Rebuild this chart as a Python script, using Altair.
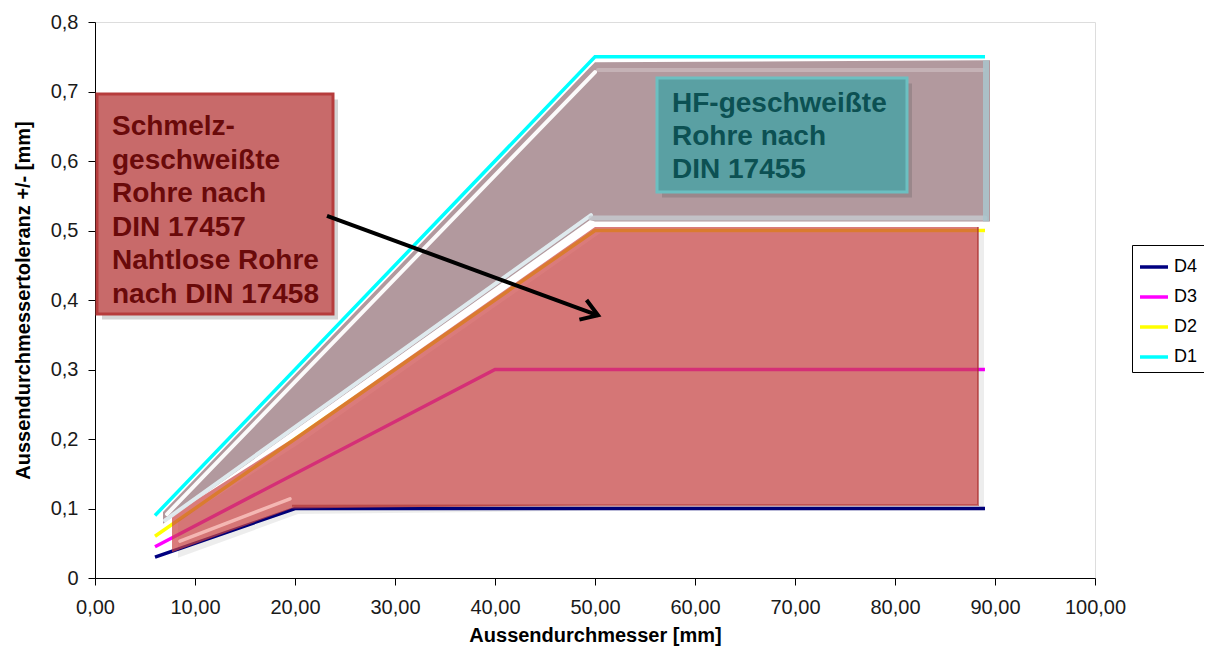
import altair as alt
import pandas as pd

FONT = "Liberation Sans"

# ---------------- data series ----------------
series_names = ["D4", "D3", "D2", "D1"]
series_colors = ["#000080", "#ff00ff", "#ffff00", "#00ffff"]

x_d1 = [6, 50, 89]
y_d1 = [0.09, 0.75, 0.75]
x_d2 = [6, 50, 89]
y_d2 = [0.06, 0.5, 0.5]
x_d3 = [6, 40, 89]
y_d3 = [0.045, 0.3, 0.3]
x_d4 = [6, 20, 89]
y_d4 = [0.03, 0.1, 0.1]

x_ticks = [0, 10, 20, 30, 40, 50, 60, 70, 80, 90, 100]
y_ticks = [0, 0.1, 0.2, 0.3, 0.4, 0.5, 0.6, 0.7, 0.8]

# ---------------- annotation shapes (data coordinates) ----------------
# red region (Schmelzgeschweisste / nahtlose Rohre)
red_x = [7.7, 19.7, 50, 88.3]
red_top = [0.09, 0.2, 0.505, 0.505]
red_bottom = [0.037, 0.1, 0.105, 0.105]

# HF region
hf_x = [6.8, 49.5, 50, 89.5]
hf_top = [0.095, 0.735, 0.742, 0.745]
hf_bottom = [0.078, 0.515, 0.513, 0.513]

# bevel highlight lines
white_x = [7.2, 50.0]
white_y = [0.092, 0.728]
pale_x = [7.0, 49.6]
pale_y = [0.083, 0.522]
band_x = [49.6, 89.0]
band_y = [0.518, 0.518]
topband_x = [50.3, 88.8]
topband_y = [0.731, 0.731]
strip_x = [89.1]
strip_y = [0.513]
strip_y2 = [0.745]
pink_x = [8.5, 19.5]
pink_y = [0.053, 0.114]
red_edge_x = [19.7, 88.3, 88.3]
red_edge_y = [0.104, 0.105, 0.505]

# text boxes
red_box = dict(x=0.2, x2=23.8, y=0.3799, y2=0.6964)
hf_box = dict(x=56.2, x2=81.2, y=0.5554, y2=0.7194)
red_lines = ["Schmelz-", "geschweißte", "Rohre nach", "DIN 17457", "Nahtlose Rohre", "nach DIN 17458"]
red_line_y = [0.6374, 0.5891, 0.5407, 0.4924, 0.4440, 0.3957]
red_text_x = 1.7
hf_lines = ["HF-geschweißte", "Rohre nach", "DIN 17455"]
hf_line_y = [0.6705, 0.623, 0.5755]
hf_text_x = 57.7

# arrow
arrow_x = [23.2]
arrow_y = [0.521]
arrow_x2 = [50.3]
arrow_y2 = [0.378]

# ---------------- tables ----------------
rows = []
for name, xs, ys in [("D1", x_d1, y_d1), ("D2", x_d2, y_d2), ("D3", x_d3, y_d3), ("D4", x_d4, y_d4)]:
    for i, (a, b) in enumerate(zip(xs, ys)):
        rows.append({"series": name, "x": a, "y": b, "i": i})
lines_df = pd.DataFrame(rows)

xscale = alt.Scale(domain=[0, 100], nice=False, zero=False)
yscale = alt.Scale(domain=[0, 0.8], nice=False, zero=False)

xaxis = alt.Axis(
    values=x_ticks, grid=False, domainColor="black", tickColor="black", tickSize=7,
    labelExpr="replace(format(datum.value, '.2f'), '.', ',')",
    labelFont=FONT, labelFontSize=20, labelColor="#1a1a1a", labelPadding=12,
    titleFont=FONT, titleFontSize=20, titleFontWeight="bold", titleColor="black",
    titlePadding=8, labelFlush=False, labelOverlap=False,
)
yaxis = alt.Axis(
    values=y_ticks, grid=False, domainColor="black", tickColor="black", tickSize=7,
    labelExpr="datum.value == 0 ? '0' : replace(format(datum.value, '.1f'), '.', ',')",
    labelFont=FONT, labelFontSize=20, labelColor="#1a1a1a", labelPadding=10,
    titleFont=FONT, titleFontSize=20, titleFontWeight="bold", titleColor="black",
    titlePadding=17, labelFlush=False, labelOverlap=False,
)
XT = "Aussendurchmesser [mm]"
YT = "Aussendurchmessertoleranz +/- [mm]"


def X(field="x"):
    return alt.X(f"{field}:Q", scale=xscale, axis=xaxis, title=XT)


def Y(field="y"):
    return alt.Y(f"{field}:Q", scale=yscale, axis=yaxis, title=YT)


lines = alt.Chart(lines_df).mark_line(strokeWidth=3.5).encode(
    x=X(), y=Y(),
    color=alt.Color(
        "series:N",
        scale=alt.Scale(domain=series_names, range=series_colors),
        legend=alt.Legend(
            title=None, orient="none", legendX=1037, legendY=223,
            strokeColor="black", fillColor="white", padding=6,
            symbolType="stroke", symbolSize=784, symbolStrokeWidth=3.5,
            labelFont=FONT, labelFontSize=18, labelColor="black", labelOffset=4,
            rowPadding=5,
        ),
    ),
    order="i:O",
    detail="series:N",
)

red_df = pd.DataFrame({"x": red_x, "y": red_top, "y2": red_bottom})
red_shadow = alt.Chart(red_df).transform_calculate(
    xs="datum.x + 0.6", ys="datum.y - 0.008", ys2="datum.y2 - 0.008"
).mark_area(color="black", opacity=0.07).encode(x=X("xs"), y=Y("ys"), y2="ys2:Q")
red_area = alt.Chart(red_df).mark_area(color="#cb4343", opacity=0.7).encode(
    x=X(), y=Y(), y2="y2:Q"
)
red_edge = alt.Chart(pd.DataFrame({"x": red_edge_x, "y": red_edge_y, "i": [0, 1, 2]})).mark_line(
    color="#a82a2a", opacity=0.6, strokeWidth=2
).encode(x=X(), y=Y(), order="i:O")

hf_df = pd.DataFrame({"x": hf_x, "y": hf_top, "y2": hf_bottom})
hf_area = alt.Chart(hf_df).mark_area(color="#8e6870", opacity=0.68).encode(
    x=X(), y=Y(), y2="y2:Q"
)


def seg(xs, ys, color, width, opacity=1.0):
    df = pd.DataFrame({"x": xs, "y": ys, "i": list(range(len(xs)))})
    return alt.Chart(df).mark_line(
        color=color, strokeWidth=width, opacity=opacity, strokeCap="round"
    ).encode(x=X(), y=Y(), order="i:O")


white_line = seg(white_x, white_y, "white", 4, 0.95)
pale_line = seg(pale_x, pale_y, "#e2eef2", 4, 0.95)
band_line = seg(band_x, band_y, "#c6cbcf", 5, 0.8)
topband_line = seg(topband_x, topband_y, "#ffffff", 4, 0.25)
pink_line = seg(pink_x, pink_y, "#f6bab6", 3.5, 0.95)
strip = alt.Chart(pd.DataFrame({"x": strip_x, "y": strip_y, "y2": strip_y2})).mark_rule(
    color="#a9c6cc", strokeWidth=6, opacity=0.85
).encode(x=X(), y=Y(), y2="y2:Q")


def box(b, fill, stroke):
    df = pd.DataFrame([b])
    shadow = alt.Chart(df).transform_calculate(
        xs="datum.x + 0.5", xs2="datum.x2 + 0.5", ys="datum.y - 0.008", ys2="datum.y2 - 0.008"
    ).mark_rect(color="#555555", opacity=0.25).encode(x=X("xs"), x2="xs2:Q", y=Y("ys"), y2="ys2:Q")
    rect = alt.Chart(df).mark_rect(fill=fill, stroke=stroke, strokeWidth=3).encode(
        x=X(), x2="x2:Q", y=Y(), y2="y2:Q"
    )
    return shadow + rect


red_textbox = box(red_box, "#c86a6a", "#b63c3c")
hf_textbox = box(hf_box, "#5aa0a3", "#6cbfc1")

red_text = alt.Chart(pd.DataFrame({"t": red_lines, "y": red_line_y, "x": [red_text_x] * len(red_lines)})).mark_text(
    align="left", baseline="alphabetic", font=FONT, fontSize=28, fontWeight="bold", color="#6a0a0a"
).encode(x=X(), y=Y(), text="t:N")
hf_text = alt.Chart(pd.DataFrame({"t": hf_lines, "y": hf_line_y, "x": [hf_text_x] * len(hf_lines)})).mark_text(
    align="left", baseline="alphabetic", font=FONT, fontSize=28, fontWeight="bold", color="#0c5153"
).encode(x=X(), y=Y(), text="t:N")

arrow_df = pd.DataFrame({"x": arrow_x, "y": arrow_y, "x2": arrow_x2, "y2": arrow_y2})
arrow_line = alt.Chart(arrow_df).mark_rule(color="black", strokeWidth=4).encode(
    x=X(), y=Y(), x2="x2:Q", y2="y2:Q"
)
arrow_head = alt.Chart(arrow_df).mark_point(
    shape="M-1,-0.65L0,0L-1,0.65", filled=False, stroke="black", strokeWidth=4,
    size=1024, angle=20, strokeJoin="miter", opacity=1
).encode(x=X("x2"), y=Y("y2"))

chart = alt.layer(
    lines, red_shadow, red_area, red_edge, hf_area,
    white_line, pale_line, band_line, topband_line, pink_line, strip,
    red_textbox, red_text, hf_textbox, hf_text,
    arrow_line, arrow_head,
).properties(
    width=1000, height=556,
    autosize=alt.AutoSizeParams(type="none"),
    padding={"left": 87, "top": 14, "right": 109, "bottom": 68},
).configure_view(
    fill="#c0c0c0", stroke="#808080", strokeWidth=1
).configure(background="white")

chart.save("out.html", embed_options={"renderer": "svg", "actions": False})
